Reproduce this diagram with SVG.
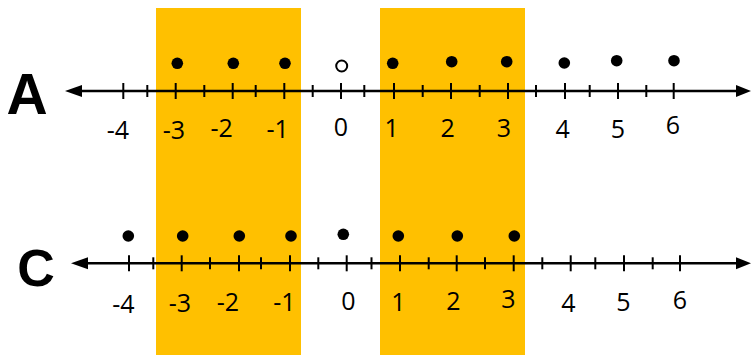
<svg xmlns="http://www.w3.org/2000/svg" width="751" height="355" viewBox="0 0 751 355">
<style>
.band{fill:#FFC000}
.axis{stroke:#000;stroke-width:2.5;fill:none}
.tick{stroke:#000;stroke-width:2}
.head{fill:#000}
.dot{fill:#000}
.open{fill:#fff;stroke:#000;stroke-width:2}
.num{font-family:"Open Sans","Liberation Sans",sans-serif;font-size:25px;fill:#000;text-anchor:middle}
.lbl{font-family:"Liberation Sans",Arial,sans-serif;font-weight:bold;fill:#000;text-anchor:middle}
</style>
<rect width="751" height="355" fill="#fff"/>
<g id="bands">
<rect class="band" x="156" y="8" width="145" height="347"/>
<rect class="band" x="380" y="8" width="145" height="347"/>
</g>
<g id="lineA">
<text class="lbl" x="27" y="114" font-size="57">A</text>
<line class="axis" x1="76" y1="91" x2="740" y2="91"/>
<polygon class="head" points="65,91 82,85 82,97"/>
<polygon class="head" points="751,91 736,85 736,97"/>
<g class="tick">
<line x1="123.3" y1="83" x2="123.3" y2="99"/><line x1="147.3" y1="85" x2="147.3" y2="97"/>
<line x1="175.7" y1="83" x2="175.7" y2="99"/><line x1="204.3" y1="85" x2="204.3" y2="97"/>
<line x1="232.7" y1="83" x2="232.7" y2="99"/><line x1="255.7" y1="85" x2="255.7" y2="97"/>
<line x1="284.3" y1="83" x2="284.3" y2="99"/><line x1="312.7" y1="85" x2="312.7" y2="97"/>
<line x1="341" y1="83" x2="341" y2="99"/><line x1="364.3" y1="85" x2="364.3" y2="97"/>
<line x1="394" y1="83" x2="394" y2="99"/><line x1="422.7" y1="85" x2="422.7" y2="97"/>
<line x1="451" y1="83" x2="451" y2="99"/><line x1="479.7" y1="85" x2="479.7" y2="97"/>
<line x1="508" y1="83" x2="508" y2="99"/><line x1="536" y1="85" x2="536" y2="97"/>
<line x1="565" y1="83" x2="565" y2="99"/><line x1="589.7" y1="85" x2="589.7" y2="97"/>
<line x1="618" y1="83" x2="618" y2="99"/><line x1="646.3" y1="85" x2="646.3" y2="97"/>
<line x1="673.7" y1="83" x2="673.7" y2="99"/>
</g>
<circle class="dot" cx="177.3" cy="63.3" r="5.8"/>
<circle class="dot" cx="233.3" cy="63.3" r="5.8"/>
<circle class="dot" cx="285" cy="63.3" r="5.8"/>
<circle class="open" cx="341.7" cy="66" r="5.5"/>
<circle class="dot" cx="392.7" cy="63.3" r="5.8"/>
<circle class="dot" cx="451.7" cy="61.7" r="5.8"/>
<circle class="dot" cx="506.7" cy="61.7" r="5.8"/>
<circle class="dot" cx="564.3" cy="63" r="5.8"/>
<circle class="dot" cx="616.7" cy="60.7" r="5.8"/>
<circle class="dot" cx="674" cy="60.7" r="5.8"/>
<text class="num" x="118" y="139">-4</text>
<text class="num" x="174" y="139">-3</text>
<text class="num" x="221.7" y="137">-2</text>
<text class="num" x="277.7" y="138">-1</text>
<text class="num" x="341" y="136">0</text>
<text class="num" x="391.7" y="137">1</text>
<text class="num" x="447.7" y="137">2</text>
<text class="num" x="504" y="137">3</text>
<text class="num" x="562.7" y="138">4</text>
<text class="num" x="618" y="138">5</text>
<text class="num" x="673" y="134">6</text>
</g>
<g id="lineC">
<text class="lbl" x="36" y="286" font-size="52">C</text>
<line class="axis" x1="82" y1="263.3" x2="740" y2="263.3"/>
<polygon class="head" points="71,263.3 88,257.3 88,269.3"/>
<polygon class="head" points="751,263.3 736,257.3 736,269.3"/>
<g class="tick">
<line x1="129" y1="255.3" x2="129" y2="271.3"/><line x1="153.3" y1="257.3" x2="153.3" y2="269.3"/>
<line x1="181.7" y1="255.3" x2="181.7" y2="271.3"/><line x1="210" y1="257.3" x2="210" y2="269.3"/>
<line x1="239" y1="255.3" x2="239" y2="271.3"/><line x1="261" y1="257.3" x2="261" y2="269.3"/>
<line x1="290" y1="255.3" x2="290" y2="271.3"/><line x1="318.3" y1="257.3" x2="318.3" y2="269.3"/>
<line x1="346.7" y1="255.3" x2="346.7" y2="271.3"/><line x1="371.5" y1="257.3" x2="371.5" y2="269.3"/>
<line x1="400" y1="255.3" x2="400" y2="271.3"/><line x1="428.7" y1="257.3" x2="428.7" y2="269.3"/>
<line x1="456.7" y1="255.3" x2="456.7" y2="271.3"/><line x1="485" y1="257.3" x2="485" y2="269.3"/>
<line x1="513.7" y1="255.3" x2="513.7" y2="271.3"/><line x1="542.3" y1="257.3" x2="542.3" y2="269.3"/>
<line x1="570.7" y1="255.3" x2="570.7" y2="271.3"/><line x1="595.3" y1="257.3" x2="595.3" y2="269.3"/>
<line x1="624" y1="255.3" x2="624" y2="271.3"/><line x1="652.7" y1="257.3" x2="652.7" y2="269.3"/>
<line x1="680" y1="255.3" x2="680" y2="271.3"/>
</g>
<circle class="dot" cx="128.3" cy="236" r="5.8"/>
<circle class="dot" cx="182.7" cy="236" r="5.8"/>
<circle class="dot" cx="239.3" cy="236" r="5.8"/>
<circle class="dot" cx="291" cy="236" r="5.8"/>
<circle class="dot" cx="343.3" cy="234.3" r="5.8"/>
<circle class="dot" cx="398.3" cy="236" r="5.8"/>
<circle class="dot" cx="457.3" cy="236" r="5.8"/>
<circle class="dot" cx="514.3" cy="236" r="5.8"/>
<text class="num" x="123.3" y="313">-4</text>
<text class="num" x="180" y="311.5">-3</text>
<text class="num" x="228" y="310.5">-2</text>
<text class="num" x="284.3" y="311">-1</text>
<text class="num" x="348.3" y="310">0</text>
<text class="num" x="398.3" y="310.5">1</text>
<text class="num" x="453.3" y="310">2</text>
<text class="num" x="508.3" y="308">3</text>
<text class="num" x="568.3" y="311.5">4</text>
<text class="num" x="623.3" y="310.5">5</text>
<text class="num" x="680" y="309">6</text>
</g>
</svg>
